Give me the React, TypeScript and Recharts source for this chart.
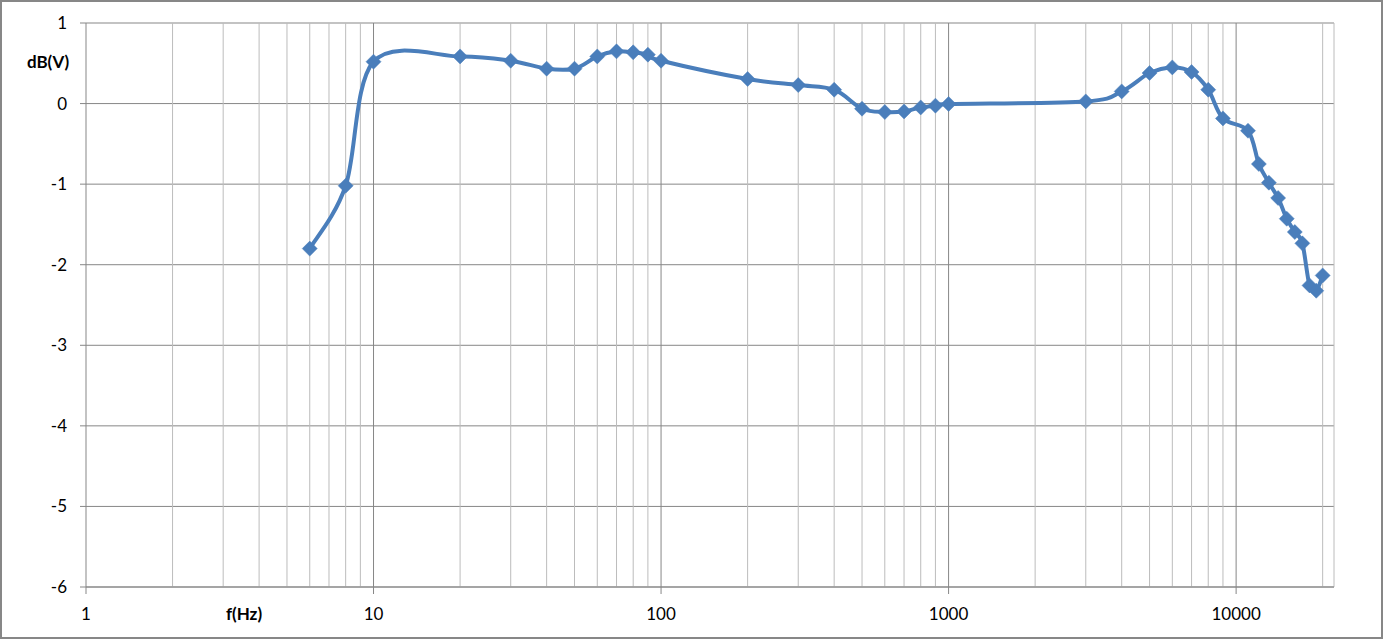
import { CartesianGrid, Line, LineChart, ReferenceLine, XAxis, YAxis } from 'recharts'

// frequency response
const freqs = [
  6, 8, 10, 20, 30, 40, 50, 60, 70, 80, 90, 100, 200, 300, 400, 500, 600, 700, 800, 900, 1000,
  3000, 4000, 5000, 6000, 7000, 8000, 9000, 11000, 12000, 13000, 14000, 15000, 16000, 17000,
  18000, 19000, 20000,
]
const levels = [
  -1.8, -1.02, 0.52, 0.585, 0.532, 0.433, 0.433, 0.585, 0.648, 0.636, 0.607, 0.532, 0.305, 0.23,
  0.172, -0.064, -0.105, -0.097, -0.048, -0.026, -0.005, 0.027, 0.151, 0.379, 0.449, 0.392, 0.172,
  -0.184, -0.337, -0.75, -0.982, -1.172, -1.429, -1.594, -1.735, -2.257, -2.323, -2.133,
]
const xTicks = [1, 10, 100, 1000, 10000]
const yTicks = [-6, -5, -4, -3, -2, -1, 0, 1]
const minorSteps = [2, 3, 4, 5, 6, 7, 8, 9]
const xMax = 21900

const data = freqs.map((f, i) => ({ f, db: levels[i] }))
const minorGrid = xTicks.flatMap((d) => minorSteps.map((m) => d * m)).filter((v) => v < xMax)

const lineColor = '#4a7ebb'
const majorColor = '#878787'
const minorColor = '#bcbcbc'
const font = 'Lato, "Open Sans", sans-serif'

// Excel-like smoothed line (uniform Catmull-Rom as cubic beziers)
function excelSmooth(context: any) {
  let pts: number[][] = []
  return {
    areaStart() {},
    areaEnd() {},
    lineStart() {
      pts = []
    },
    point(x: number, y: number) {
      pts.push([+x, +y])
    },
    lineEnd() {
      const n = pts.length
      if (!n) return
      context.moveTo(pts[0][0], pts[0][1])
      for (let i = 0; i < n - 1; i++) {
        const p0 = pts[Math.max(i - 1, 0)]
        const p1 = pts[i]
        const p2 = pts[i + 1]
        const p3 = pts[Math.min(i + 2, n - 1)]
        context.bezierCurveTo(
          p1[0] + (p2[0] - p0[0]) / 6,
          p1[1] + (p2[1] - p0[1]) / 6,
          p2[0] - (p3[0] - p1[0]) / 6,
          p2[1] - (p3[1] - p1[1]) / 6,
          p2[0],
          p2[1]
        )
      }
    },
  }
}

function Diamond(props: any) {
  const { cx, cy, index } = props
  const r = 7.5
  return (
    <path
      key={`d-${index}`}
      d={`M${cx},${cy - r}L${cx + r},${cy}L${cx},${cy + r}L${cx - r},${cy}Z`}
      fill={lineColor}
      stroke={lineColor}
      strokeWidth={0.5}
    />
  )
}

export default function App() {
  return (
    <div style={{ position: 'absolute', left: 0, top: 0, width: 1383, height: 639, background: '#fff' }}>
      <LineChart
        width={1383}
        height={639}
        data={data}
        margin={{ top: 23, right: 49, bottom: 0, left: 0 }}
      >
        <CartesianGrid vertical={false} stroke={majorColor} strokeWidth={1} />
        {minorGrid.map((v) => (
          <ReferenceLine key={`m${v}`} x={v} stroke={minorColor} strokeWidth={1} />
        ))}
        <ReferenceLine x={xMax} stroke={minorColor} strokeWidth={1} />
        {xTicks.slice(1).map((v) => (
          <ReferenceLine key={`M${v}`} x={v} stroke={majorColor} strokeWidth={1} />
        ))}
        <XAxis
          dataKey='f'
          type='number'
          scale='log'
          domain={[1, xMax]}
          allowDataOverflow
          ticks={xTicks}
          interval={0}
          height={52}
          stroke={majorColor}
          tickSize={7}
          tickMargin={14}
          tick={{ fill: '#000', fontSize: 17, fontFamily: font }}
        />
        <YAxis
          type='number'
          domain={[-6, 1]}
          ticks={yTicks}
          interval={0}
          width={86}
          stroke={majorColor}
          tickSize={6}
          tickMargin={13}
          tick={{ fill: '#000', fontSize: 17, fontFamily: font }}
        />
        <Line
          dataKey='db'
          type={excelSmooth as any}
          stroke={lineColor}
          strokeWidth={4}
          dot={Diamond}
          activeDot={false}
          isAnimationActive={false}
        />
      </LineChart>
      <svg
        width={1383}
        height={639}
        style={{ position: 'absolute', left: 0, top: 0, pointerEvents: 'none' }}
      >
        <text x={48} y={68} textAnchor='middle' fontFamily={font} fontWeight='bold' fontSize={17}>
          dB(V)
        </text>
        <text x={244} y={620} textAnchor='middle' fontFamily={font} fontWeight='bold' fontSize={17}>
          f(Hz)
        </text>
        <rect x={1} y={1} width={1381} height={637} fill='none' stroke={majorColor} strokeWidth={2} />
      </svg>
    </div>
  )
}
